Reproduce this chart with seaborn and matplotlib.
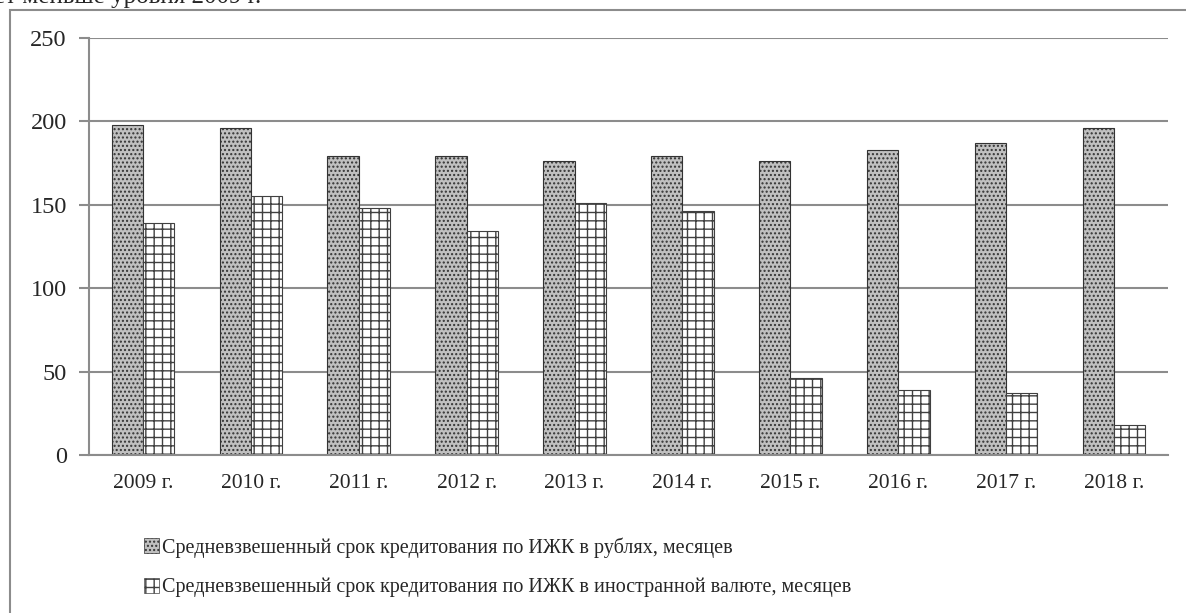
import pandas as pd
import numpy as np
import matplotlib.pyplot as plt
import matplotlib.patches as mpatches
import seaborn as sns

years = ["2009 г.", "2010 г.", "2011 г.", "2012 г.", "2013 г.",
         "2014 г.", "2015 г.", "2016 г.", "2017 г.", "2018 г."]
rub_term = [198, 196, 179, 179, 176, 179, 176, 183, 187, 196]
fx_term = [139, 155, 148, 134, 151, 146, 46, 39, 37, 18]
series_names = ["Средневзвешенный срок кредитования по ИЖК в рублях, месяцев",
                "Средневзвешенный срок кредитования по ИЖК в иностранной валюте, месяцев"]

df = pd.DataFrame({
    "year": years * 2,
    "value": rub_term + fx_term,
    "series": [series_names[0]] * len(years) + [series_names[1]] * len(years),
})

sns.set_style("white")
plt.rcParams["font.family"] = ["Liberation Serif", "DejaVu Serif"]
plt.rcParams["hatch.linewidth"] = 1.0

fig = plt.figure(figsize=(11.86, 6.13), dpi=100)
ax = fig.add_axes([89 / 1186, 1 - 455 / 613, (1168 - 89) / 1186, (455 - 38) / 613])

sns.barplot(data=df, x="year", y="value", hue="series", ax=ax,
            width=0.58, gap=0, palette=["#c0c0c0", "white"], legend=False)

styles = [("....", "#333333"), ("++", "#404040")]
for cont, (h, ec) in zip(ax.containers, styles):
    for bar in cont:
        bar.set_hatch(h)
        bar.set_edgecolor(ec)
        bar.set_linewidth(0.8)

ax.set_ylim(0, 250)
ax.set_xlim(-0.5, len(years) - 0.5)
ax.set_yticks([0, 50, 100, 150, 200, 250])
ax.yaxis.grid(True, color="#8c8c8c", linewidth=1.5)
ax.set_axisbelow(True)
ax.set_xlabel("")
ax.set_ylabel("")
for s in ["top", "right"]:
    ax.spines[s].set_visible(False)
for s in ["left", "bottom"]:
    ax.spines[s].set_color("#8c8c8c")
    ax.spines[s].set_linewidth(1.5)

ax.set_xticks(np.arange(-0.5, len(years), 1.0), minor=True)
ax.tick_params(axis="x", which="major", length=0, pad=14, labelsize=15.5)
ax.tick_params(axis="x", which="minor", length=7, width=1.5, color="#8c8c8c", direction="out")
ax.tick_params(axis="y", length=7, width=1.5, color="#8c8c8c", direction="out",
               pad=9, labelsize=17.5, left=True)

handles = [mpatches.Patch(facecolor=fc, edgecolor=ec, hatch=h, linewidth=0.5)
           for fc, (h, ec) in zip(["#c0c0c0", "white"], styles)]
fig.legend(handles, series_names, loc="upper left",
           bbox_to_anchor=(126 / 1186, 1 - 519 / 613), frameon=False,
           fontsize=14.5, handlelength=0.75, handleheight=0.75,
           handletextpad=0.15, labelspacing=1.0)

frame = mpatches.Rectangle((10 / 1186, -0.05), 1.1, 1 - 10 / 613 + 0.05,
                           transform=fig.transFigure, fill=False,
                           edgecolor="#8c8c8c", linewidth=1.5, clip_on=False)
fig.add_artist(frame)

fig.text(-0.005, 1 - 3 / 613, "ет меньше уровня 2009 г.", fontsize=18,
         va="baseline", ha="left")

fig.savefig("out.png", dpi=100)
